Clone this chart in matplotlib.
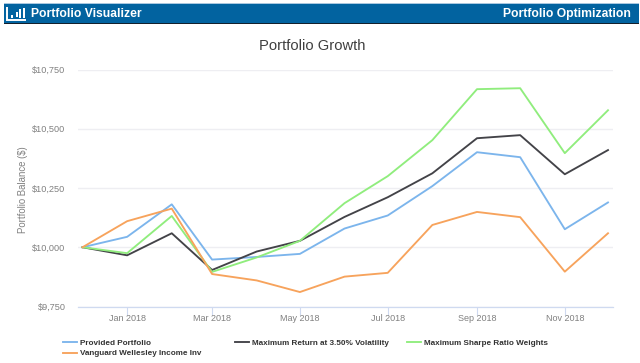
import matplotlib
matplotlib.use("Agg")
import matplotlib.pyplot as plt
import matplotlib.dates as mdates
from matplotlib.lines import Line2D
from matplotlib.patches import Rectangle
import numpy as np
from datetime import date

plt.rcParams['font.family'] = ['Liberation Sans', 'DejaVu Sans']

months = [date(2017, 12, 1)] + [date(2018, m, 1) for m in range(1, 13)]
provided = [10000, 10044, 10181, 9948, 9959, 9972, 10079, 10134, 10258, 10401, 10380, 10076, 10189]
max_return = [10000, 9966, 10059, 9904, 9982, 10027, 10128, 10211, 10312, 10460, 10473, 10308, 10410]
max_sharpe = [10000, 9975, 10132, 9896, 9957, 10027, 10186, 10300, 10452, 10667, 10671, 10397, 10578]
wellesley = [10000, 10110, 10163, 9887, 9860, 9811, 9876, 9892, 10094, 10149, 10127, 9897, 10059]
y_ticks = [9750, 10000, 10250, 10500, 10750]
y_labels = ['$9,750', '$10,000', '$10,250', '$10,500', '$10,750']
x_ticks = [date(2018, m, 1) for m in (1, 3, 5, 7, 9, 11)]
x_labels = ['Jan 2018', 'Mar 2018', 'May 2018', 'Jul 2018', 'Sep 2018', 'Nov 2018']
title = 'Portfolio Growth'
names = ['Provided Portfolio', 'Vanguard Wellesley Income Inv',
         'Maximum Return at 3.50% Volatility', 'Maximum Sharpe Ratio Weights']

W, H = 640, 363
fig = plt.figure(figsize=(W / 100, H / 100), dpi=100, facecolor='white')
def fx(px): return px / W
def fy(py): return 1 - py / H

# header band
bg = fig.add_axes([0, 0, 1, 1], zorder=0)
bg.set_xlim(0, W); bg.set_ylim(H, 0); bg.axis('off')
bg.add_patch(Rectangle((4.3, 3.3), 635, 20.2, fc='#0263a0', ec='none'))
bg.add_patch(Rectangle((4.3, 3.0), 635, 0.9, fc='#a9c8e0', ec='none'))
bg.add_patch(Rectangle((4.3, 23.0), 635, 0.9, fc='#14202c', ec='none'))
# logo
bg.plot([7.2, 7.2, 25.7], [6.7, 20, 20], color='white', lw=1.4, solid_capstyle='butt',
        solid_joinstyle='miter')
for x0, top_px in zip([12.3, 16.7, 20.3, 24.0], [15.0, 11.7, 9.3, 8.3]):
    bg.add_patch(Rectangle((x0 - 0.9, top_px), 1.8, 17.5 - top_px, fc='white', ec='none'))
bg.text(31, 13.7, 'Portfolio Visualizer', color='white', fontsize=8.75, fontweight='bold',
        ha='left', va='center')
bg.text(630.7, 13.7, 'Portfolio Optimization', color='white', fontsize=8.75, fontweight='bold',
        ha='right', va='center')

# chart
left, right, top, bottom = 78, 613, 69.5, 306.5
ax = fig.add_axes([fx(left), fy(bottom), (right - left) / W, (bottom - top) / H], zorder=1)
ax.patch.set_alpha(0)
x_num = mdates.date2num(months)
px_per_day = (608 - 82.5) / (x_num[-1] - x_num[0])
ax.set_xlim(x_num[0] - (82.5 - left) / px_per_day, x_num[-1] + (right - 608) / px_per_day)
ax.set_ylim(9750, 10750)
ax.set_yticks(y_ticks, y_labels)
ax.set_xticks(mdates.date2num(x_ticks), x_labels)
ax.grid(axis='y', color='#eeeef2', lw=1)
ax.set_axisbelow(True)
for s in ('top', 'right', 'left'):
    ax.spines[s].set_visible(False)
ax.spines['bottom'].set_color('#cfdaf0')
ax.spines['bottom'].set_linewidth(0.9)
ax.tick_params(axis='y', length=0, pad=9.0, labelsize=6.6, labelcolor='#808080')
ax.tick_params(axis='x', length=5.4, width=0.8, color='#cfdaf0', pad=0.2, labelsize=6.5, labelcolor='#808080')

lw = 1.35
ax.plot(x_num, provided, color='#7cb5ec', lw=lw, clip_on=False)
ax.plot(x_num, max_return, color='#434348', lw=lw, clip_on=False)
ax.plot(x_num, max_sharpe, color='#90ed7d', lw=lw, clip_on=False)
ax.plot(x_num, wellesley, color='#f7a35c', lw=lw, clip_on=False)

fig.text(fx(312.5), fy(46.5), title, fontsize=10.6, color='#3f3f3f', ha='center', va='center')
fig.text(fx(23), fy(189.5), 'Portfolio Balance ($)', fontsize=6.9, color='#808080',
         rotation=90, ha='center', va='center')

# legend: three real legends so each column starts where the reference's does
def column(handles, labels, x_px, y_px):
    leg = fig.legend(handles, labels, loc='upper left', bbox_to_anchor=(fx(x_px), fy(y_px)),
                     frameon=False, borderpad=0, borderaxespad=0, handlelength=1.66,
                     handletextpad=0.42, labelspacing=0.3,
                     prop={'size': 5.87, 'weight': 'bold'})
    for t in leg.get_texts():
        t.set_color('#333333')
    return leg

h = lambda c: Line2D([], [], color=c, lw=lw)
column([h('#7cb5ec'), h('#f7a35c')], names[:2], 63, 339.5)
column([h('#434348')], names[2:3], 235, 339.5)
column([h('#90ed7d')], names[3:], 407, 339.5)

fig.savefig('out.png', dpi=100)
